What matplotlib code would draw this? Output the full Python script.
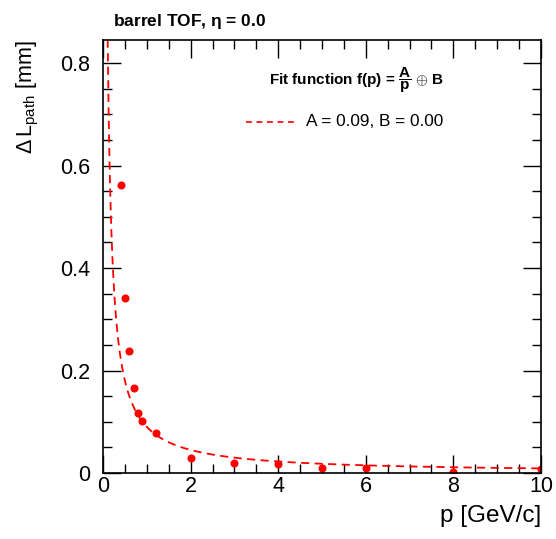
import numpy as np
import matplotlib
matplotlib.use("Agg")
import matplotlib.pyplot as plt
from matplotlib.ticker import MultipleLocator

plt.rcParams['font.family'] = ['Liberation Sans', 'DejaVu Sans']
plt.rcParams['mathtext.fontset'] = 'custom'
plt.rcParams['mathtext.rm'] = 'Liberation Sans'
plt.rcParams['mathtext.bf'] = 'Liberation Sans:bold'
plt.rcParams['mathtext.it'] = 'Liberation Sans:italic'

# measured resolution vs momentum
p_vals = [0.4, 0.5, 0.6, 0.7, 0.8, 0.9, 1.2, 2, 3, 4, 5, 6, 8, 10]
dl_vals = [0.563, 0.342, 0.239, 0.166, 0.117, 0.101, 0.078, 0.030,
           0.020, 0.017, 0.010, 0.010, 0.0013, 0.0085]

# fit parameters
fit_A = 0.09
fit_B = 0.00

fig = plt.figure(figsize=(5.56, 5.39), dpi=100)
ax = fig.add_axes([0.1853, 0.1224, 0.7877, 0.8034])

pp = np.linspace(0.05, 10, 2000)
ff = np.sqrt((fit_A / pp) ** 2 + fit_B ** 2)
ax.plot(pp, ff, color='red', lw=1.3, ls=(0, (4.5, 3)))
ax.plot(p_vals, dl_vals, 'o', color='red', ms=4.8, mec='red')

ax.set_xlim(0, 10)
ax.set_ylim(0, 0.845)
ax.xaxis.set_major_locator(MultipleLocator(2))
ax.xaxis.set_minor_locator(MultipleLocator(0.5))
ax.yaxis.set_major_locator(MultipleLocator(0.2))
ax.yaxis.set_minor_locator(MultipleLocator(0.05))
ax.tick_params(which='both', direction='in', top=True, right=True,
               labelsize=15.5, width=1)
ax.tick_params(axis='x', pad=2)
ax.tick_params(axis='y', pad=9)
ax.tick_params(which='major', length=13)
ax.tick_params(which='minor', length=6.5)
ax.set_yticks([0, 0.2, 0.4, 0.6, 0.8])
ax.set_yticklabels(['0', '0.2', '0.4', '0.6', '0.8'])
for s in ax.spines.values():
    s.set_linewidth(1.2)

ax.set_xlabel('p [GeV/c]', fontsize=17.5, loc='right', labelpad=6)
ax.set_ylabel(r'$\Delta\,\mathregular{L}_{\mathregular{path}}$ [mm]', fontsize=15.5,
              loc='top', labelpad=14)

fig.text(0.204, 0.961, r'barrel TOF, $\mathbf{\eta}$ = 0.0', fontsize=12.5,
         fontweight='bold', va='center')
ax.text(0.38, 0.908, r'Fit function f(p) = $\mathbf{\dfrac{A}{p}}$ $\oplus$ B',
        transform=ax.transAxes, fontsize=11, fontweight='bold', va='center')
ax.plot([0.326, 0.438], [0.811, 0.811], transform=ax.transAxes, color='red',
        lw=1.2, ls=(0, (3.5, 2.8)))
ax.text(0.463, 0.811, 'A = %.2f, B = %.2f' % (fit_A, fit_B),
        transform=ax.transAxes, fontsize=12.4, va='center')

fig.savefig('out.png', dpi=100)
